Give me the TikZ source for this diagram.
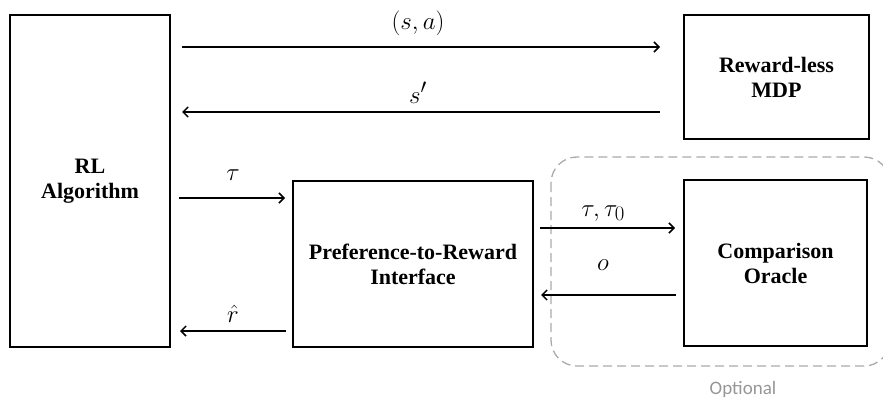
\documentclass[tikz,border=0pt]{standalone}
\usepackage{fontspec}
\setmainfont{Liberation Serif}
\newfontfamily\optfont{Carlito}
\usetikzlibrary{arrows.meta}
\begin{document}
\begin{tikzpicture}[x=1pt,y=-1pt,
  box/.style={draw=black,line width=1.3pt,inner sep=0pt,font=\fontsize{22}{25}\selectfont\bfseries,align=center},
  arr/.style={line width=1.5pt,-{Straight Barb[length=5pt,width=10pt,line width=1.5pt]}},
  lab/.style={anchor=base,inner sep=0pt,font=\fontsize{28}{30}\selectfont}]
\useasboundingbox (0,0) rectangle (883,404);
% boxes
\node[box,minimum width=160pt,minimum height=332pt] (rl) at (90,181) {RL\\Algorithm};
\node[box,minimum width=185pt,minimum height=124pt] (mdp) at (776.5,77) {Reward-less\\MDP};
\node[box,minimum width=240pt,minimum height=166pt] (p2r) at (413,264) {Preference-to-Reward\\Interface};
\node[box,minimum width=183pt,minimum height=166pt] (co) at (775.5,263) {Comparison\\Oracle};
% optional region
\draw[draw={rgb,255:red,170;green,170;blue,170},line width=1.3pt,dash pattern=on 9pt off 5pt,rounded corners=26pt] (551,157) rectangle (890,366);
\node[anchor=base,inner sep=0pt,font=\optfont\fontsize{19}{22}\selectfont,text={rgb,255:red,150;green,150;blue,150}] (opt) at (743,394) {Optional};
% connector endpoints
\coordinate (a1s) at (182,47); \coordinate (a1e) at (660,47);
\coordinate (a2s) at (660,112); \coordinate (a2e) at (182,112);
\coordinate (a3s) at (179,198); \coordinate (a3e) at (285,198);
\coordinate (a4s) at (286,331); \coordinate (a4e) at (180,331);
\coordinate (a5s) at (540,228); \coordinate (a5e) at (675,228);
\coordinate (a6s) at (676,295); \coordinate (a6e) at (541,295);
\draw[arr] (a1s) -- (a1e);
\draw[arr] (a2s) -- (a2e);
\draw[arr] (a3s) -- (a3e);
\draw[arr] (a4s) -- (a4e);
\draw[arr] (a5s) -- (a5e);
\draw[arr] (a6s) -- (a6e);
% labels
\node[lab] (lsa) at (418,30) {$(s,a)$};
\node[lab] (lsp) at (418,103) {$s'$};
\node[lab] (ltau) at (233,180) {$\tau$};
\node[lab] (lr) at (233,322) {$\hat{r}$};
\node[lab] (ltt) at (603,216) {$\tau,\tau_0$};
\node[lab] (lo) at (603,270) {$o$};
\end{tikzpicture}
\end{document}
